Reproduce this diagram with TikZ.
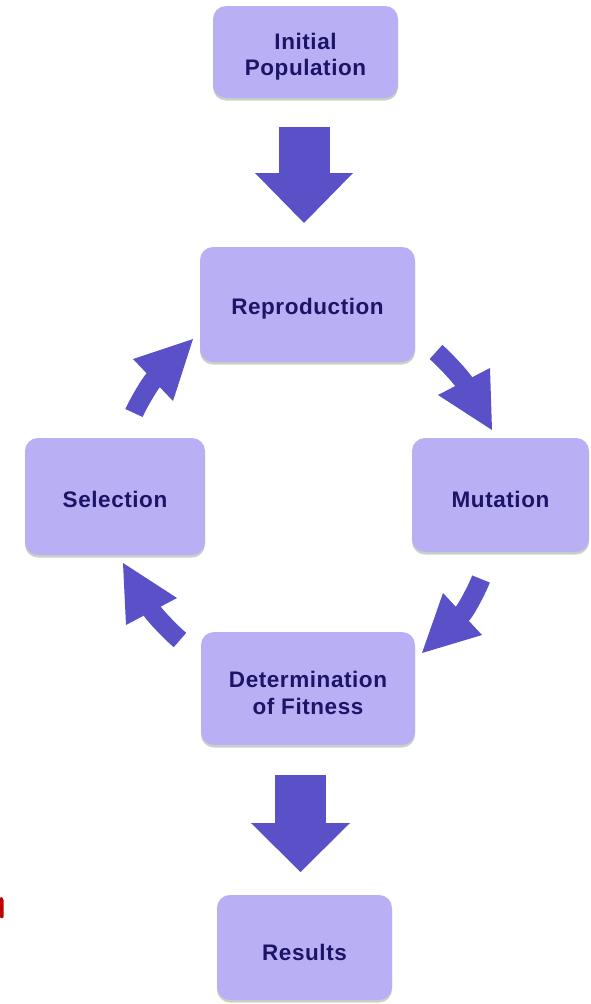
\documentclass[tikz,border=0pt]{standalone}
\usepackage{fontspec}
\setmainfont{Liberation Sans}
\newfontfamily\boxfont[LetterSpace=2.5]{Liberation Sans}
\usetikzlibrary{shadows,calc}
\definecolor{boxfill}{HTML}{B9AFF5}
\definecolor{arrowfill}{HTML}{5A50C8}
\definecolor{txt}{HTML}{1C1466}
\definecolor{redtxt}{HTML}{C00000}
\begin{document}
\begin{tikzpicture}[x=1pt,y=1pt,
  stage/.style={draw=none, fill=boxfill, rounded corners=13pt, inner sep=0pt,
    drop shadow={opacity=0.22, shadow xshift=0pt, shadow yshift=-2.5pt, fill=black!80!green}},
  stagetext/.style={align=center, inner sep=0pt,
    font=\boxfont\fontsize{22.5}{26.5}\selectfont\bfseries, text=txt},
  bigshaft/.style={draw=arrowfill, line width=51pt},
  curshaft/.style={draw=arrowfill, line width=19pt},
  headfill/.style={fill=arrowfill, draw=none}]
\useasboundingbox (0,0) rectangle (591,-1004);
% boxes
\node[stage, minimum width=185pt, minimum height=92pt] (ini) at (305.5,-52) {};
\node[stage, minimum width=215pt, minimum height=115pt] (rep) at (307.5,-304.5) {};
\node[stage, minimum width=177pt, minimum height=114pt] (mut) at (500.5,-495) {};
\node[stage, minimum width=180pt, minimum height=117pt] (sel) at (115,-496.5) {};
\node[stage, minimum width=214pt, minimum height=113pt] (det) at (308,-688.5) {};
\node[stage, minimum width=175pt, minimum height=105pt] (res) at (304.5,-947.5) {};
% box texts
\node[stagetext] (iniT) at ($(ini)+(0,-4.5)$) {Initial\\Population};
\node[stagetext] (repT) at ($(rep)+(0,-4)$) {Reproduction};
\node[stagetext] (mutT) at ($(mut)+(0,-4.5)$) {Mutation};
\node[stagetext] (selT) at ($(sel)+(0,-3)$) {Selection};
\node[stagetext] (detT) at ($(det)+(0,-4.5)$) {Determination\\of Fitness};
\node[stagetext] (resT) at ($(res)+(0,-5)$) {Results};
% straight block arrows
\coordinate (d1s) at (304,-127);
\coordinate (d1b) at (304,-175);
\coordinate (d1t) at (304,-223);
\draw[bigshaft] (d1s) -- (d1b);
\fill[headfill] (255,-173) -- (d1t) -- (353,-173) -- cycle;
\coordinate (d2s) at (300.5,-775);
\coordinate (d2b) at (300.5,-825);
\coordinate (d2t) at (300.5,-872);
\draw[bigshaft] (d2s) -- (d2b);
\fill[headfill] (251,-823) -- (d2t) -- (350,-823) -- cycle;
% curved arrows: Reproduction -> Mutation
\coordinate (a1s) at (436,-352);
\coordinate (a1b) at (466,-385);
\coordinate (a1t) at (492,-430);
\draw[curshaft] (a1s) to[out=-40,in=120,looseness=0.5] (a1b);
\fill[headfill] (490,-368) -- (a1t) -- (438,-395) -- cycle;
% Mutation -> Determination
\coordinate (a2s) at (481,-579);
\coordinate (a2b) at (460.5,-616);
\coordinate (a2t) at (422,-653);
\draw[curshaft] (a2s) to[out=-110,in=44,looseness=0.5] (a2b);
\fill[headfill] (443,-593) -- (a2t) -- (482,-635) -- cycle;
% Determination -> Selection
\coordinate (a3s) at (180,-640);
\coordinate (a3b) at (150,-608);
\coordinate (a3t) at (123,-563);
\draw[curshaft] (a3s) to[out=141,in=300,looseness=0.5] (a3b);
\fill[headfill] (126,-625) -- (a3t) -- (177,-598) -- cycle;
% Selection -> Reproduction
\coordinate (a4s) at (134,-413);
\coordinate (a4b) at (155,-378);
\coordinate (a4t) at (193,-339);
\draw[curshaft] (a4s) to[out=67,in=226,looseness=0.5] (a4b);
\fill[headfill] (133,-359) -- (a4t) -- (173,-401) -- cycle;
% cut-off red letter fragment at the left edge
\fill[redtxt, rounded corners=1pt] (0,-918) -- (0,-897) -- (2,-897) -- (3.5,-899) -- (3.5,-918) -- cycle;
\end{tikzpicture}
\end{document}
